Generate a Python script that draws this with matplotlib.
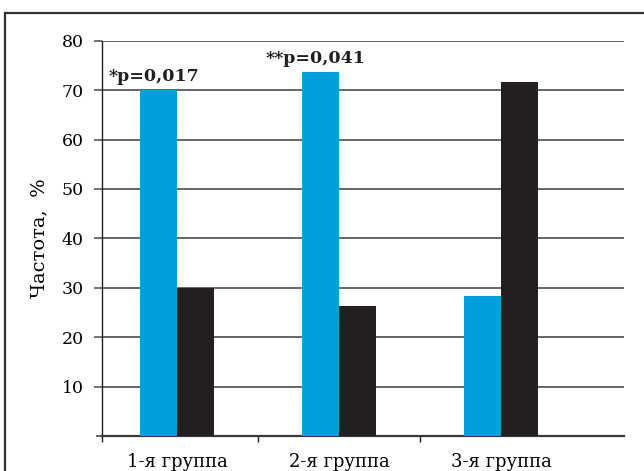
import matplotlib.pyplot as plt
from matplotlib.lines import Line2D

groups = ["1-я группа", "2-я группа", "3-я группа"]
blue_vals = [70.0, 73.6, 28.4]
black_vals = [30.0, 26.4, 71.6]
notes = ["*p=0,017", "**p=0,041", ""]
yticks = [10, 20, 30, 40, 50, 60, 70, 80]

BLUE = "#009fdd"
BLACK = "#231f20"
GRID = "#5a5a5a"

plt.rcParams.update({
    "font.family": ["DejaVu Serif"],
    "font.size": 12,
    "text.color": "#231f20",
})

fig = plt.figure(figsize=(6.44, 4.71), dpi=100)
ax = fig.add_axes([0.1584, 0.0743, 0.8106, 0.8393])

w = 0.23
xs = list(range(len(groups)))
ax.bar([x - w / 2 for x in xs], blue_vals, width=w, color=BLUE, zorder=3)
ax.bar([x + w / 2 for x in xs], black_vals, width=w, color=BLACK, zorder=3)

for x, v, t in zip(xs, blue_vals, notes):
    if t:
        ax.text(x - w / 2 - 0.03, v + 1.0, t, ha="center", va="bottom",
                fontsize=12.5, weight="bold", color="#231f20")

left = -0.463
ax.set_xlim(left, 2.76)
ax.set_ylim(0, 80)

ax.set_yticks(yticks)
ax.yaxis.grid(True, color=GRID, lw=1.3, zorder=1)
ax.tick_params(axis="y", length=6, width=1.2, color=GRID, pad=7, labelsize=12.5)
ax.set_yticks([0], minor=True)
ax.tick_params(axis="y", which="minor", length=4, width=1.3, color=GRID)

ax.set_xticks(xs)
ax.set_xticklabels(groups)
ax.tick_params(axis="x", length=0, pad=12, labelsize=13)
ax.set_xticks([left, 0.5, 1.5], minor=True)
ax.tick_params(axis="x", which="minor", length=4, width=1.0, color="#231f20")

for s in ["top", "right"]:
    ax.spines[s].set_visible(False)
ax.spines["left"].set_color("#231f20")
ax.spines["left"].set_linewidth(1.0)
ax.spines["bottom"].set_color("#3a3a3a")
ax.spines["bottom"].set_linewidth(1.6)

ax.set_ylabel("Частота,  %", fontsize=14, labelpad=10)

# outer frame (top and left edges visible)
fig.add_artist(Line2D([5 / 644, 1], [1 - 13 / 471, 1 - 13 / 471],
                      transform=fig.transFigure, color="#333333", lw=1.6))
fig.add_artist(Line2D([5 / 644, 5 / 644], [0, 1 - 13 / 471],
                      transform=fig.transFigure, color="#333333", lw=1.6))

fig.savefig("out.png", dpi=100)
